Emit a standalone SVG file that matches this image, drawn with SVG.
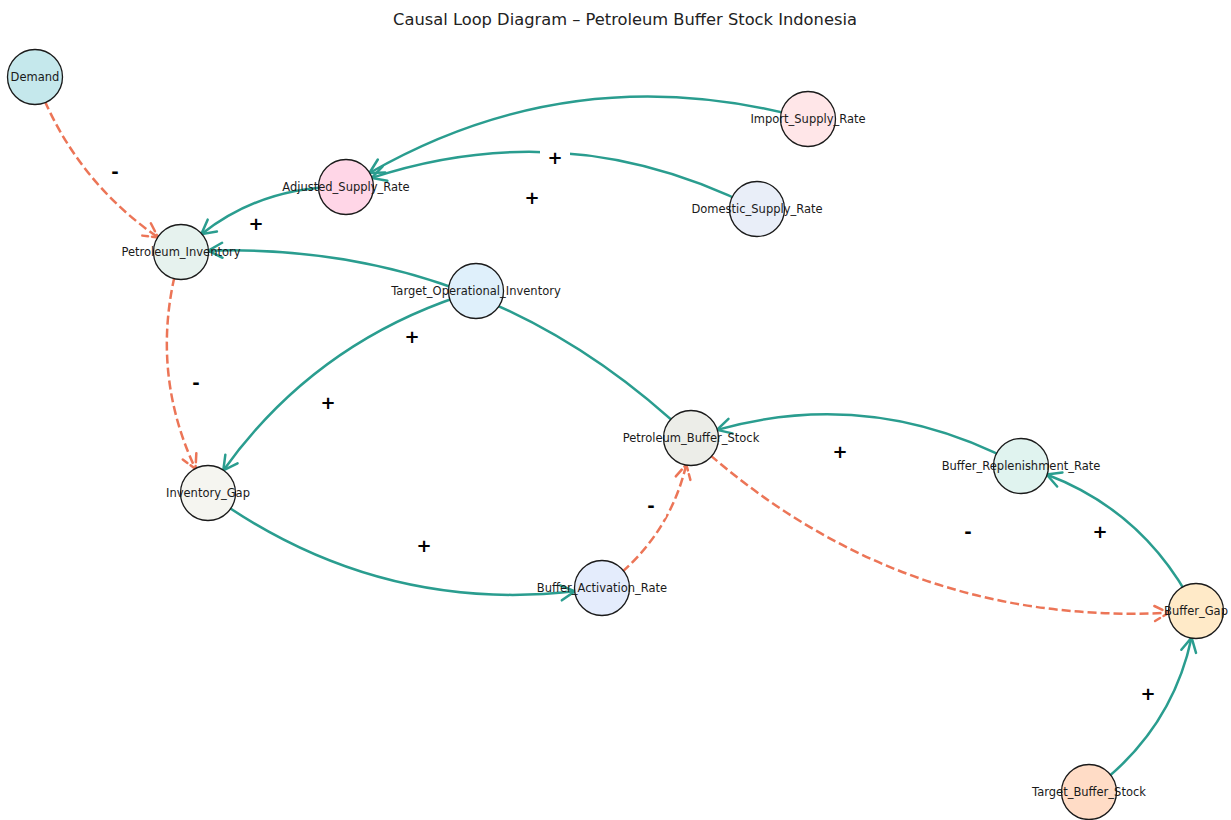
<svg xmlns="http://www.w3.org/2000/svg" width="1231" height="820" viewBox="0 0 1231 820">
<style>
.pos{fill:none;stroke:#2a9d8f;stroke-width:2.5;marker-end:url(#ap)}
.neg{fill:none;stroke:#ec7557;stroke-width:2.5;stroke-dasharray:9 4;marker-end:url(#an)}
.node circle{stroke:#1a1a1a;stroke-width:1.3}
.node text{font-family:"DejaVu Sans",sans-serif;font-size:11.5px;fill:#1a1a1a;text-anchor:middle}
.sg rect{fill:#fff}
.sg text{font-family:"DejaVu Sans",sans-serif;font-size:18px;font-weight:bold;fill:#000;text-anchor:middle}
.title{font-family:"DejaVu Sans",sans-serif;font-size:16.3px;fill:#222;text-anchor:middle}
</style>
<defs>
<marker id="ap" markerUnits="userSpaceOnUse" orient="auto" viewBox="-18 -10 20 20" refX="0" refY="0" markerWidth="20" markerHeight="20" overflow="visible">
<path d="M-14,-7.5 L0,0 L-14,7.5" fill="none" stroke="#2a9d8f" stroke-width="2.5" stroke-linecap="round" stroke-linejoin="miter"/>
</marker>
<marker id="an" markerUnits="userSpaceOnUse" orient="auto" viewBox="-18 -10 20 20" refX="0" refY="0" markerWidth="20" markerHeight="20" overflow="visible">
<path d="M-14,-7.5 L0,0 L-14,7.5" fill="none" stroke="#ec7557" stroke-width="2.5" stroke-linecap="round" stroke-dasharray="9 4"/>
</marker>
</defs>
<rect width="1231" height="820" fill="#fff"/>
<text class="title" x="625" y="25">Causal Loop Diagram – Petroleum Buffer Stock Indonesia</text>
<g id="connectors">
<path class="neg" d="M35,77 Q71.8,177.9 158.1,237.4"/>
<path class="pos" d="M346,187 Q263.6,185.2 201.3,234.2"/>
<path class="pos" d="M808,119 Q575.3,55 369.4,173"/>
<path class="pos" d="M757,209 Q568.6,113.3 371.7,177.9"/>
<path class="pos" d="M691,438 Q486.8,242.3 208.3,250.7"/>
<path class="pos" d="M476,291 Q317.8,338.5 223.3,470.4"/>
<path class="neg" d="M181,252 Q146.7,365.1 195.5,469"/>
<path class="pos" d="M208,493 Q374.8,614 574.9,591.3"/>
<path class="neg" d="M602,588 Q668.3,540.6 686.3,464.5"/>
<path class="pos" d="M1021,466 Q874.3,386 717,429.9"/>
<path class="neg" d="M691,438 Q895.4,626.3 1168.7,612.8"/>
<path class="pos" d="M1196,611 Q1146.6,512.3 1046.7,474.5"/>
<path class="pos" d="M1089,792 Q1171.2,733.1 1191.6,637.6"/>
</g>
<g id="signs" class="sg">
<rect x="100" y="161" width="30" height="24" rx="4"/><text x="115" y="178.4">-</text>
<rect x="241" y="211" width="30" height="24" rx="4"/><text x="256" y="229.5">+</text>
<rect x="540" y="145" width="30" height="24" rx="4"/><text x="555" y="163.5">+</text>
<rect x="517" y="185" width="30" height="24" rx="4"/><text x="532" y="203.5">+</text>
<rect x="397" y="324" width="30" height="24" rx="4"/><text x="412" y="342.5">+</text>
<rect x="313" y="390" width="30" height="24" rx="4"/><text x="328" y="408.5">+</text>
<rect x="181" y="372" width="30" height="24" rx="4"/><text x="196" y="389.4">-</text>
<rect x="409" y="533" width="30" height="24" rx="4"/><text x="424" y="551.5">+</text>
<rect x="636" y="495" width="30" height="24" rx="4"/><text x="651" y="512.4">-</text>
<rect x="825" y="439" width="30" height="24" rx="4"/><text x="840" y="457.5">+</text>
<rect x="953" y="521" width="30" height="24" rx="4"/><text x="968" y="538.4">-</text>
<rect x="1085" y="519" width="30" height="24" rx="4"/><text x="1100" y="537.5">+</text>
<rect x="1133" y="681" width="30" height="24" rx="4"/><text x="1148" y="699.5">+</text>
</g>
<g id="Demand" class="node"><circle cx="35" cy="77" r="27.5" fill="#c5e8ec"/><text x="35" y="81">Demand</text></g>
<g id="Adjusted_Supply_Rate" class="node"><circle cx="346" cy="187" r="27.5" fill="#ffd6e7"/><text x="346" y="191">Adjusted_Supply_Rate</text></g>
<g id="Import_Supply_Rate" class="node"><circle cx="808" cy="119" r="27.5" fill="#ffe6e8"/><text x="808" y="123">Import_Supply_Rate</text></g>
<g id="Domestic_Supply_Rate" class="node"><circle cx="757" cy="209" r="27.5" fill="#e9eef8"/><text x="757" y="213">Domestic_Supply_Rate</text></g>
<g id="Petroleum_Inventory" class="node"><circle cx="181" cy="252" r="27.5" fill="#e6f2ee"/><text x="181" y="256">Petroleum_Inventory</text></g>
<g id="Target_Operational_Inventory" class="node"><circle cx="476" cy="291" r="27.5" fill="#dff0fb"/><text x="476" y="295">Target_Operational_Inventory</text></g>
<g id="Petroleum_Buffer_Stock" class="node"><circle cx="691" cy="438" r="27.5" fill="#ecede8"/><text x="691" y="442">Petroleum_Buffer_Stock</text></g>
<g id="Buffer_Replenishment_Rate" class="node"><circle cx="1021" cy="466" r="27.5" fill="#e0f3ef"/><text x="1021" y="470">Buffer_Replenishment_Rate</text></g>
<g id="Inventory_Gap" class="node"><circle cx="208" cy="493" r="27.5" fill="#f5f5f0"/><text x="208" y="497">Inventory_Gap</text></g>
<g id="Buffer_Activation_Rate" class="node"><circle cx="602" cy="588" r="27.5" fill="#e4ecfc"/><text x="602" y="592">Buffer_Activation_Rate</text></g>
<g id="Buffer_Gap" class="node"><circle cx="1196" cy="611" r="27.5" fill="#ffeac8"/><text x="1196" y="615">Buffer_Gap</text></g>
<g id="Target_Buffer_Stock" class="node"><circle cx="1089" cy="792" r="27.5" fill="#ffdcc6"/><text x="1089" y="796">Target_Buffer_Stock</text></g>
</svg>
